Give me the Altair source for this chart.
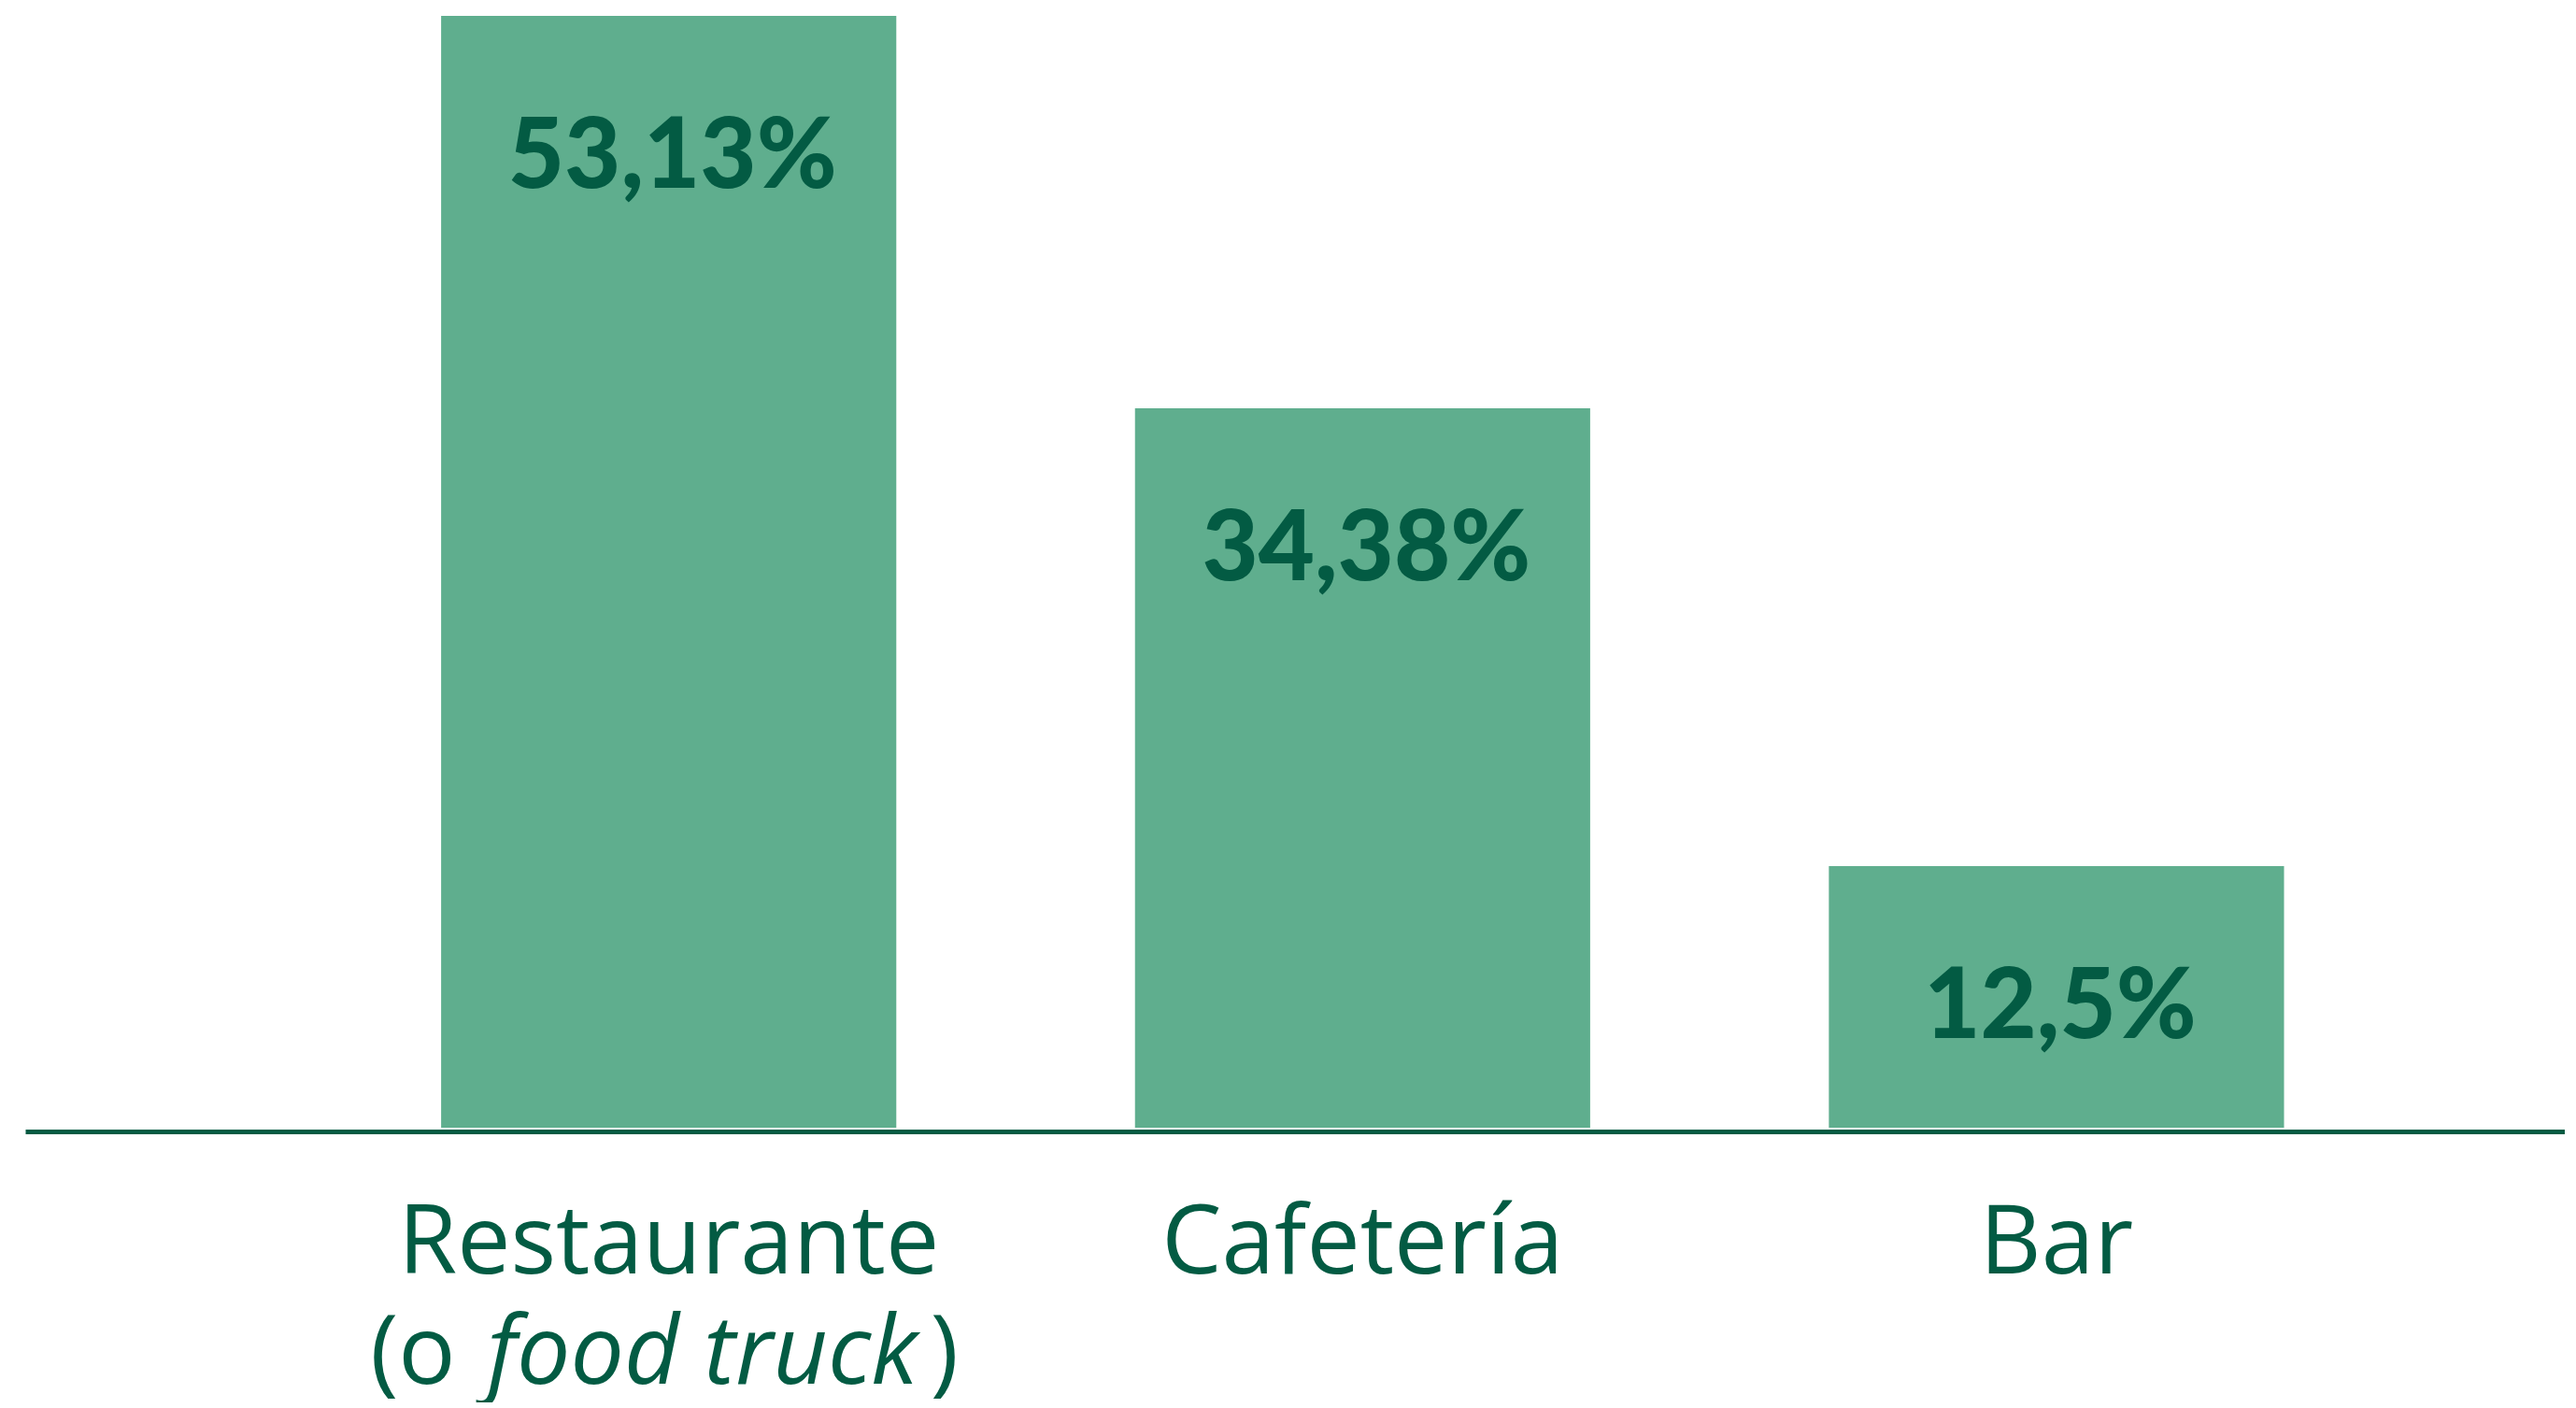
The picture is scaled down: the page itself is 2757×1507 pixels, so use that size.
import altair as alt
import pandas as pd

categories = ["Restaurante", "Cafetería", "Bar"]
values = [53.13, 34.38, 12.5]
value_labels = ["53,13%", "34,38%", "12,5%"]
second_line_cat = "Restaurante"
second_line_parts = ["(o", "food truck", ")"]

BAR = "#5fae8e"
DARK = "#035b43"
W, H = 2718, 1190

df = pd.DataFrame({"cat": categories, "val": values, "lab": value_labels})

xscale = alt.Scale(domain=categories, paddingInner=0.344, paddingOuter=0.502, align=0.597)
yscale = alt.Scale(domain=[0, max(values)], nice=False)

x = alt.X("cat:N", scale=xscale, sort=categories,
          axis=alt.Axis(title=None, ticks=False, tickSize=0, domainColor=DARK, domainWidth=5,
                        offset=4, labelAngle=0, labelFont="Open Sans", labelFontSize=102,
                        labelColor=DARK, labelBaseline="alphabetic", labelPadding=151,
                        labelFontWeight="normal", labelLimit=0, grid=False))
y = alt.Y("val:Q", scale=yscale, axis=None)

bars = alt.Chart(df).mark_bar(color=BAR).encode(x=x, y=y)
labels = alt.Chart(df).mark_text(font="Lato", fontSize=104, fontWeight=900, color=DARK,
                                 baseline="alphabetic", align="center", dy=184, dx=4).encode(
    x=alt.X("cat:N", scale=xscale, sort=categories), y=y, text="lab:N")

def piece(txt, align, dx, style):
    d = pd.DataFrame({"cat": [second_line_cat], "t": [txt]})
    return alt.Chart(d).mark_text(font="Open Sans", fontSize=102, fontStyle=style, color=DARK,
                                  baseline="alphabetic", align=align, dx=dx).encode(
        x=alt.X("cat:N", scale=xscale, sort=categories), y=alt.value(1464), text="t:N")

p1 = piece(second_line_parts[0], "right", -228, "normal")
p2 = piece(second_line_parts[1], "center", 36, "italic")
p3 = piece(second_line_parts[2], "left", 280, "normal")

chart = alt.layer(bars, labels, p1, p2, p3).properties(
    width=W, height=H, padding={"left": 19, "top": 9, "right": 0, "bottom": 0},
    background="white"
).configure_view(stroke=None)

chart.save("out.html", embed_options={"renderer": "svg", "actions": False})
